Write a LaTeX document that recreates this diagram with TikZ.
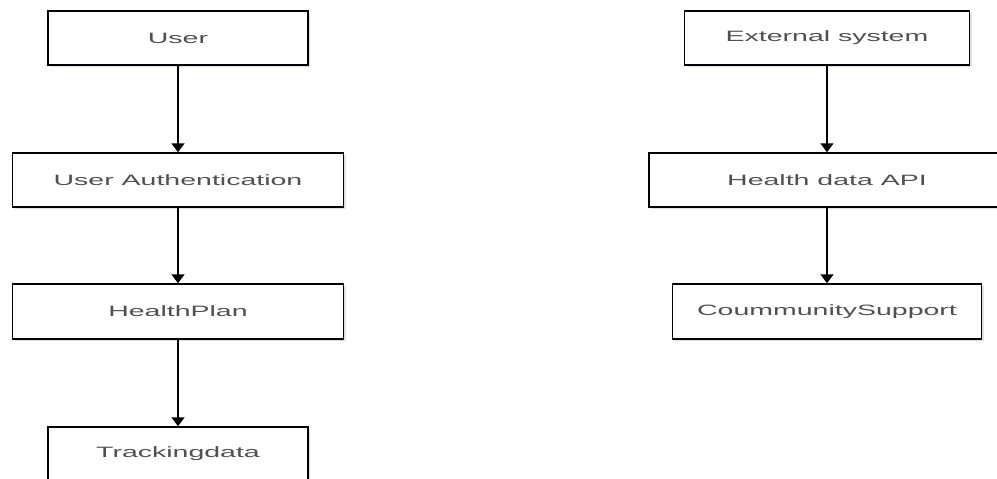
\documentclass[tikz,border=0pt]{standalone}
\usepackage{fontspec}
\setmainfont{Liberation Sans}
\usetikzlibrary{arrows.meta,shadows}
\definecolor{txtgray}{HTML}{505050}
\tikzset{
  box/.style={draw=black, line width=1.5pt, fill=white, minimum height=54pt,
    inner sep=0pt, font=\fontsize{15}{17}\selectfont, text=txtgray,
    drop shadow={shadow xshift=2pt, shadow yshift=-2pt, opacity=0.12, fill=blue!40!black}},
  flow/.style={draw=black, line width=1.7pt, -{Triangle[width=13pt,length=9pt]}}
}
\newcommand{\wide}[1]{\scalebox{1.9}[1]{#1}}
\begin{document}
\begin{tikzpicture}[x=1pt,y=-1pt]
\useasboundingbox (0,0) rectangle (997,479);
\clip (0,0) rectangle (997,479);
\fill[white] (0,0) rectangle (997,479);
% left column
\node[box, minimum width=260pt] (user) at (178,38) {\wide{User}};
\node[box, minimum width=331pt] (auth) at (178,180) {\wide{User Authentication}};
\node[box, minimum width=331pt, minimum height=55pt] (plan) at (178,311.5) {\wide{HealthPlan}};
\node[box, minimum width=260pt] (track) at (178,454) {\wide{Trackingdata}};
% right column
\node[box, minimum width=285pt] (ext) at (827,38) {\wide{External system}};
\node[box, minimum width=356pt] (api) at (827,180) {\wide{Health data API}};
\node[box, minimum width=309pt, minimum height=55pt] (comm) at (827,311.5) {\wide{CoummunitySupport}};
% connectors
\draw[flow] (user.south) -- (auth.north);
\draw[flow] (auth.south) -- (plan.north);
\draw[flow] (plan.south) -- (track.north);
\draw[flow] (ext.south) -- (api.north);
\draw[flow] (api.south) -- (comm.north);
\end{tikzpicture}
\end{document}
